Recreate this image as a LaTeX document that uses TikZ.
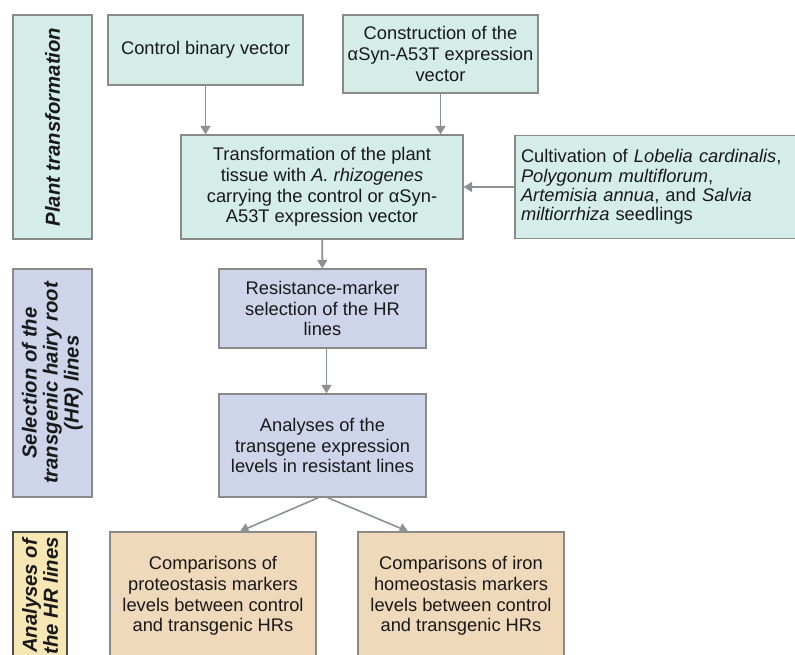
\documentclass[tikz,border=0pt]{standalone}
\usepackage{fontspec}
\setmainfont{Liberation Sans}
\usetikzlibrary{positioning,arrows.meta}
\definecolor{tealbox}{HTML}{D4EDE9}
\definecolor{lavbox}{HTML}{CED4EA}
\definecolor{tanbox}{HTML}{EFD9BA}
\definecolor{yelbox}{HTML}{F6E7B4}
\definecolor{edgegray}{HTML}{8A8A8A}
\definecolor{arrgray}{HTML}{8C9195}

\begin{document}
\begin{tikzpicture}[
			x=1pt, y=-1pt,
			every node/.style = {text=black!90, font=\fontsize{18.3}{20.8}\selectfont},
			box/.style = {draw=edgegray, line width=1.2pt, rectangle, align=center, inner sep=0pt},
			side/.style = {box, rotate=90, font=\fontsize{20.3}{21}\selectfont\bfseries\itshape},
			arr/.style = {draw=arrgray, line width=1.6pt, -{Triangle[width=10pt, length=8.5pt]}}
		]
		\useasboundingbox (0,0) rectangle (795,654);
		\clip (0,0) rectangle (795,654);
		% Side labels.
		\node[side, fill=tealbox, minimum width=224pt, minimum height=79pt] (lplant) at (52.5,127) {Plant transformation};
		\node[side, fill=lavbox, minimum width=228pt, minimum height=79pt] (lselect) at (52.5,383) {Selection of the\\ transgenic hairy root\\ (HR) lines};
		\node[side, fill=yelbox, draw=black!70, minimum width=128pt, minimum height=54pt] (lanalyses) at (40,596) {Analyses of\\ the HR lines};
		% Plant transformation steps.
		\node[box, fill=tealbox, minimum width=195pt, minimum height=70pt] (ctrl) at (205.5,50) {Control binary vector};
		\node[box, fill=tealbox, minimum width=195pt, minimum height=78pt] (constr) at (440.5,54) {Construction of the\\ αSyn-A53T expression\\ vector};
		\node[box, fill=tealbox, minimum width=282pt, minimum height=104pt] (transf) at (322,187) {Transformation of the plant\\ tissue with \textit{A. rhizogenes}\\ carrying the control or αSyn-\\ A53T expression vector};
		\node[box, fill=tealbox, minimum height=103pt, align=left, text width=270pt, inner xsep=6pt,
			font=\fontsize{18.3}{19.3}\selectfont] (cult) at (656,187) {Cultivation of \textit{Lobelia cardinalis},\\ \textit{Polygonum multiflorum},\\ \textit{Artemisia annua}, and \textit{Salvia}\\ \textit{miltiorrhiza} seedlings};
		% Selection steps.
		\node[box, fill=lavbox, minimum width=207pt, minimum height=79pt] (resist) at (322.5,308.5) {Resistance-marker\\ selection of the HR\\ lines};
		\node[box, fill=lavbox, minimum width=207pt, minimum height=103pt] (expr) at (322.5,445.5) {Analyses of the\\ transgene expression\\ levels in resistant lines};
		% Analyses steps.
		\node[box, fill=tanbox, minimum width=206pt, minimum height=128pt] (cmpprot) at (213,596) {Comparisons of\\ proteostasis markers\\ levels between control\\ and transgenic HRs};
		\node[box, fill=tanbox, minimum width=206pt, minimum height=128pt] (cmpiron) at (461,596) {Comparisons of iron\\ homeostasis markers\\ levels between control\\ and transgenic HRs};
		% Draw the arrows.
		\draw[arr] (ctrl) -- (ctrl |- transf.north);
		\draw[arr] (constr) -- (constr |- transf.north);
		\draw[arr] (cult) -- (transf);
		\draw[arr] (transf) -- (resist);
		\draw[arr] ([xshift=4pt]resist.south) -- ([xshift=4pt]expr.north);
		\draw[arr] ([xshift=-4pt]expr.south) -- ([xshift=27pt]cmpprot.north);
		\draw[arr] ([xshift=5pt]expr.south) -- ([xshift=-53pt]cmpiron.north);
	\end{tikzpicture}
\end{document}
